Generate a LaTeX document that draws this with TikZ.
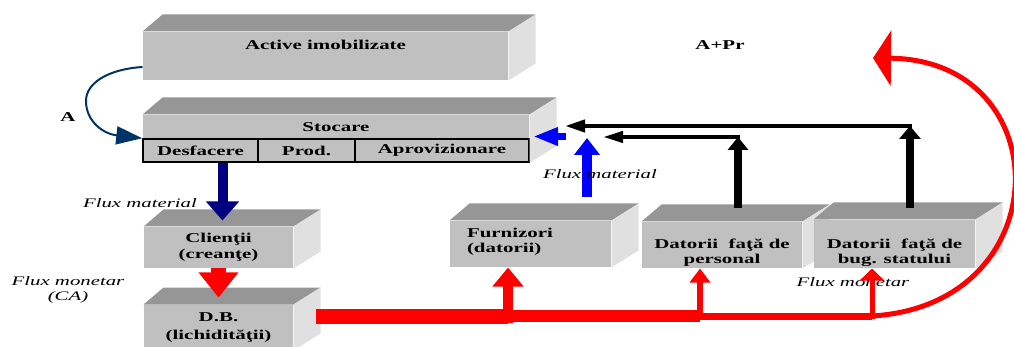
\documentclass[tikz,border=0pt]{standalone}
\usepackage{fontspec}
\newfontfamily\boxfont[FakeStretch=1.55]{Liberation Serif}
\newfontfamily\fluxfont[FakeStretch=1.6]{Liberation Serif}
\usetikzlibrary{arrows.meta,calc}

\definecolor{topgray}{RGB}{150,150,150}
\definecolor{frontgray}{RGB}{192,192,192}
\definecolor{sidegray}{RGB}{224,224,224}
\definecolor{loopnavy}{RGB}{0,51,102}
\definecolor{flownavy}{RGB}{0,0,128}

\tikzset{every picture/.style={line width=1pt}}
\tikzset{
  front/.style={fill=frontgray, inner sep=0pt, align=center,
    font=\boxfont\bfseries\fontsize{13.5pt}{15.5pt}\selectfont},
  cell/.style={front, draw=black, line width=1.5pt},
  boxtext/.style={inner sep=0pt, align=center,
    font=\boxfont\bfseries\fontsize{13.5pt}{15.5pt}\selectfont},
  fluxtext/.style={inner sep=0pt, align=center,
    font=\fluxfont\itshape\fontsize{13pt}{15pt}\selectfont},
}

% top and right faces of a box, from its front face corners
\newcommand{\cubefaces}[3]{%
  \fill[topgray] (#1) -- ++(20,-17) -- ($(#2)+(27,-17)$) -- (#2) -- cycle;
  \fill[sidegray] (#2) -- ++(27,-17) -- ($(#3)+(27,-17)$) -- (#3) -- cycle;}

\begin{document}
\begin{tikzpicture}[x=1pt,y=1pt,yscale=-1,xscale=1]
\useasboundingbox (0,0) rectangle (1014,347);

%Shape: Cube [Active imobilizate]
\node[front, minimum width=365pt, minimum height=48pt] (active) at (325.5,56) {};
\cubefaces{active.north west}{active.north east}{active.south east}
% Text Node
\node[boxtext] (activelbl) at ([yshift=13pt]active.north) {Active imobilizate};

%Shape: Cube [Stocare]
\node[front, minimum width=386pt, minimum height=24pt] (stocare) at (336,127) {Stocare};
\node[cell, minimum width=115pt, minimum height=23pt] (desf) at (200.5,150.5) {Desfacere};
\node[cell, minimum width=97pt, minimum height=23pt] (prod) at (306.5,150.5) {Prod.};
\node[cell, minimum width=174pt, minimum height=23pt] (aprov) at (442,150.5) {Aprovizionare};
\cubefaces{stocare.north west}{stocare.north east}{aprov.south east}

%Shape: Cube [Clienti]
\node[front, minimum width=149pt, minimum height=41pt] (clienti) at (218.5,247.5) {Clienţii\\(creanţe)};
\cubefaces{clienti.north west}{clienti.north east}{clienti.south east}

%Shape: Cube [D.B.]
\node[front, minimum width=149pt, minimum height=45pt] (db) at (218.5,327.5) {D.B.\\[2pt](lichidităţii)};
\cubefaces{db.north west}{db.north east}{db.south east}

%Shape: Cube [Furnizori]
\node[front, minimum width=161pt, minimum height=46pt] (furn) at (530.5,244) {};
\cubefaces{furn.north west}{furn.north east}{furn.south east}
% Text Node
\node[boxtext, align=left, anchor=west] (furnlbl) at ([xshift=17pt,yshift=-2pt]furn.west) {Furnizori\\(datorii)};

%Shape: Cube [Datorii personal]
\node[front, minimum width=160pt, minimum height=46pt] (pers) at (722,245) {};
\cubefaces{pers.north west}{pers.north east}{pers.south east}
% Text Node
\node[boxtext] (perslbl) at ([yshift=7.5pt]pers.center) {Datorii\ \ faţă de\\personal};

%Shape: Cube [Datorii buget]
\node[front, minimum width=161pt, minimum height=48pt] (bug) at (894.5,244) {};
\cubefaces{bug.north west}{bug.north east}{bug.south east}
% Text Node
\node[boxtext] (buglbl) at ([yshift=8.5pt]bug.center) {Datorii\ \ faţă de\\bug. statului};

% Text Node
\node[boxtext] (alabel) at (68,117) {A};
\node[boxtext] (aprlabel) at (720,45) {A+Pr};
\node[fluxtext] (fluxmat) at (140,203) {Flux material};
\node[fluxtext] (fluxmon) at (68,290) {Flux monetar\\(CA)};
\node[fluxtext] (fluxmon2) at (853,282) {Flux monetar};

% turning points of the arrows
\coordinate (dbout) at (316,316);
\coordinate (j1) at (508,316);
\coordinate (j2) at (700,316);
\coordinate (j3) at (872,316);
\coordinate (perstop) at (738,208);
\coordinate (persturn) at (738,137);
\coordinate (perstip) at (603,137);
\coordinate (bugtop) at (910,208);
\coordinate (bugturn) at (910,126);
\coordinate (bugtip) at (565,126);
\coordinate (furntop) at (587,197);
\coordinate (furntip) at (587,138);
\coordinate (sidein) at (566,136.5);
\coordinate (sidetip) at (533,136.5);
\coordinate (prtip) at (873,58);

%Curve Lines [A]
\draw[loopnavy, line width=2pt, -{Triangle[width=18pt,length=26pt]}]
  ([yshift=11pt]active.west) .. controls (110,69) and (86,82) .. (86,101)
  .. controls (86,122) and (104,134) .. (desf.north west);

%Block Arrows [flux material]
\draw[flownavy, line width=10pt, -{Triangle[width=32pt,length=19pt]}]
  ([xshift=4pt]desf.south -| clienti.north) -- ([xshift=4pt,yshift=-6pt]clienti.north);
\draw[blue, line width=10pt, -{Triangle[width=25pt,length=17pt]}] (furntop) -- (furntip);
\draw[blue, line width=7pt, -{Triangle[width=17pt,length=25pt]}] (sidein) -- (sidetip);

%Block Arrows [flux monetar]
\draw[red, line width=15pt, -{Triangle[width=38pt,length=25pt]}]
  (clienti.south) -- ([yshift=-7pt]db.north);
\draw[red, line width=15pt] (dbout) -- (j1);
\draw[red, line width=12pt] (j1) -- (j2);
\draw[red, line width=7pt] (j2) -- (j3);
\draw[red, line width=10pt, -{Triangle[width=30pt,length=19pt]}] ([yshift=7pt]j1) -- (j1 |- furn.south);
\draw[red, line width=6pt, -{Triangle[width=20pt,length=14pt]}] ([yshift=3pt]j2) -- (j2 |- pers.south);
\draw[red, line width=5pt, -{Triangle[width=24pt,length=12pt]}] ([yshift=3pt]j3) -- (j3 |- bug.south);

%Curve Lines [A+Pr]
\draw[red, line width=5pt, -{Triangle[width=55pt,length=18pt]}]
  (j3) .. controls (1060,305) and (1060,60) .. (prtip);

%Block Arrows [datorii]
\draw[black, line width=8pt, -{Triangle[width=20pt,length=13pt]}] (perstop) -- (persturn);
\draw[black, line width=4pt, -{Triangle[width=11pt,length=20pt]}] ([xshift=2pt]persturn) -- (perstip);
\draw[black, line width=8pt, -{Triangle[width=21pt,length=13pt]}] (bugtop) -- (bugturn);
\draw[black, line width=4pt, -{Triangle[width=12pt,length=20pt]}] ([xshift=2pt]bugturn) -- (bugtip);

% Text Node
\node[fluxtext] (fluxmat2) at (600,174) {Flux material};

\end{tikzpicture}
\end{document}
